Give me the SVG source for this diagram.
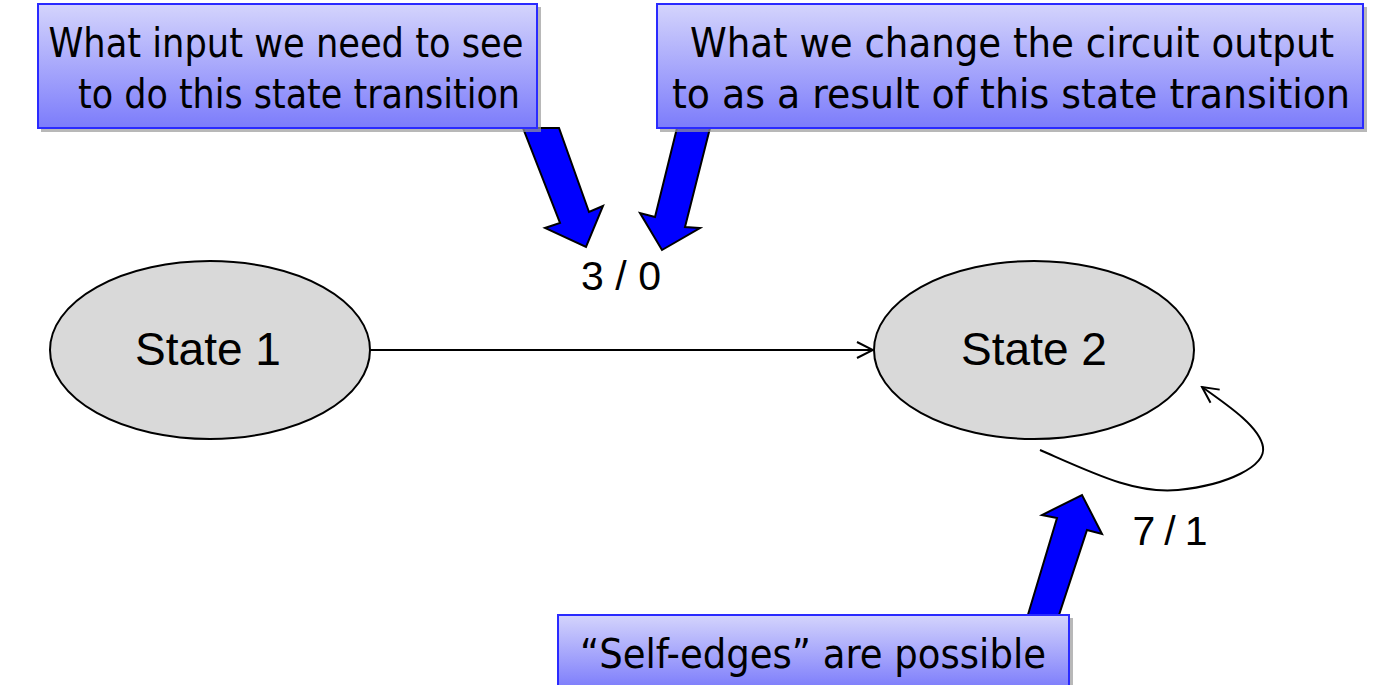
<svg xmlns="http://www.w3.org/2000/svg" width="1373" height="685" viewBox="0 0 1373 685">
<defs>
<linearGradient id="boxg" x1="0" y1="0" x2="0" y2="1">
<stop offset="0" stop-color="#d4d4fc"/>
<stop offset="1" stop-color="#7c7cfb"/>
</linearGradient>
<marker id="open" markerWidth="20" markerHeight="20" refX="18" refY="10" orient="auto" markerUnits="userSpaceOnUse">
<path d="M2,2 L18,10 L2,18" fill="none" stroke="#000" stroke-width="2"/>
</marker>
</defs>
<style>
.callout{fill:url(#boxg);stroke:#2a2aff;stroke-width:2}
.shadow{fill:#9a9a9a;opacity:0.7}
.ct{font-family:"DejaVu Sans Condensed","DejaVu Sans","Liberation Sans",sans-serif;font-size:40px;fill:#000;text-anchor:middle}
.state{fill:#d9d9d9;stroke:#000;stroke-width:2}
.st{font-family:"Liberation Sans",Arial,sans-serif;font-size:46px;fill:#000;text-anchor:middle}
.lbl{font-family:"Liberation Sans",Arial,sans-serif;font-size:41px;fill:#000;text-anchor:middle}
.barrow{fill:#0000ff;stroke:#000;stroke-width:2;stroke-linejoin:miter}
.edge{fill:none;stroke:#000;stroke-width:2}
</style>

<g id="connectors">
<line class="edge" x1="370" y1="350" x2="873" y2="350" marker-end="url(#open)"/>
<path class="edge" d="M1040,450 C1095,474 1135,494 1178,490 C1228,485 1266,466 1263,447 C1260,428 1232,408 1202,387" marker-end="url(#open)"/>
</g>

<g id="pointer-arrows">
<polygon class="barrow" points="523,128 559,128 589,212 603,206 586,247 545,228 560,223"/>
<polygon class="barrow" points="677,128 710,128 685,227 700,228 662,250 640,213 655,217"/>
<polygon class="barrow" points="1027,618 1058,618 1087,530 1102,534 1082,495 1042,515 1057,518"/>
</g>

<g id="state1">
<ellipse class="state" cx="210" cy="350" rx="160" ry="89"/>
<text class="st" x="208" y="365">State 1</text>
</g>

<g id="state2">
<ellipse class="state" cx="1034" cy="350" rx="160" ry="89"/>
<text class="st" x="1034" y="365">State 2</text>
</g>

<g id="label-3-0">
<text class="lbl" x="621" y="290" textLength="80" lengthAdjust="spacing">3 / 0</text>
</g>
<g id="label-7-1">
<text class="lbl" x="1170" y="545" textLength="75" lengthAdjust="spacing">7 / 1</text>
</g>

<g id="callout-input">
<rect class="shadow" x="41" y="7" width="500" height="125"/>
<rect class="callout" x="38" y="4" width="499" height="124"/>
<text class="ct" x="286" y="57" textLength="475" lengthAdjust="spacingAndGlyphs">What input we need to see</text>
<text class="ct" x="299" y="108" textLength="442" lengthAdjust="spacingAndGlyphs">to do this state transition</text>
</g>

<g id="callout-output">
<rect class="shadow" x="660" y="7" width="707" height="125"/>
<rect class="callout" x="657" y="4" width="706" height="124"/>
<text class="ct" x="1012" y="57" textLength="644" lengthAdjust="spacingAndGlyphs">What we change the circuit output</text>
<text class="ct" x="1011" y="108" textLength="678" lengthAdjust="spacingAndGlyphs">to as a result of this state transition</text>
</g>

<g id="callout-self">
<rect class="shadow" x="561" y="618" width="512" height="70"/>
<rect class="callout" x="558" y="615" width="511" height="74"/>
<text class="ct" x="813" y="668" textLength="466" lengthAdjust="spacingAndGlyphs">“Self-edges” are possible</text>
</g>
</svg>
